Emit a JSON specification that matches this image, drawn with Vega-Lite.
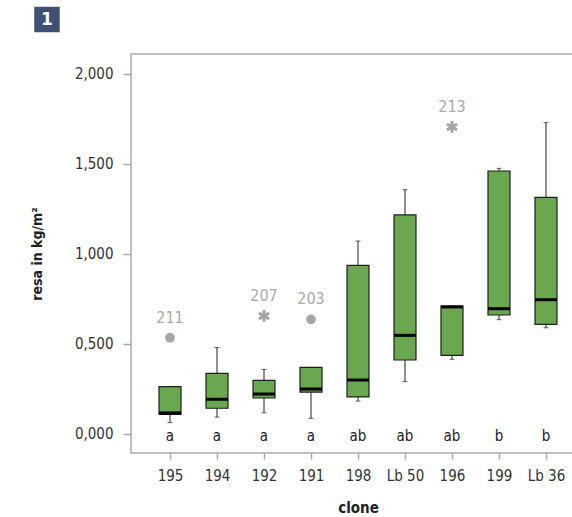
{
  "$schema": "https://vega.github.io/schema/vega-lite/v6.json",
  "padding": {"left": 29, "top": 6, "right": 0, "bottom": 0},
  "background": "white",
  "config": {
    "font": "DejaVu Sans Condensed",
    "view": {"stroke": "#aaaaaa", "strokeWidth": 1.5},
    "axis": {"labelFont": "DejaVu Sans Condensed", "titleFont": "DejaVu Sans Condensed", "grid": false}
  },
  "datasets": {
    "boxes": [
      {"clone": "195", "min": 0.063, "q1": 0.109, "median": 0.117, "q3": 0.263, "max": 0.263, "letter": "a"},
      {"clone": "194", "min": 0.094, "q1": 0.143, "median": 0.193, "q3": 0.337, "max": 0.48, "letter": "a"},
      {"clone": "192", "min": 0.118, "q1": 0.2, "median": 0.222, "q3": 0.298, "max": 0.359, "letter": "a"},
      {"clone": "191", "min": 0.087, "q1": 0.233, "median": 0.25, "q3": 0.37, "max": 0.37, "letter": "a"},
      {"clone": "198", "min": 0.183, "q1": 0.206, "median": 0.3, "q3": 0.937, "max": 1.072, "letter": "ab"},
      {"clone": "Lb 50", "min": 0.291, "q1": 0.411, "median": 0.548, "q3": 1.217, "max": 1.357, "letter": "ab"},
      {"clone": "196", "min": 0.415, "q1": 0.437, "median": 0.706, "q3": 0.711, "max": 0.711, "letter": "ab"},
      {"clone": "199", "min": 0.635, "q1": 0.661, "median": 0.696, "q3": 1.461, "max": 1.476, "letter": "b"},
      {"clone": "Lb 36", "min": 0.59, "q1": 0.609, "median": 0.746, "q3": 1.315, "max": 1.73, "letter": "b"}
    ],
    "outliers": [
      {"clone": "195", "value": 0.535, "kind": "circle", "id": "211"},
      {"clone": "192", "value": 0.656, "kind": "star", "id": "207"},
      {"clone": "191", "value": 0.637, "kind": "circle", "id": "203"},
      {"clone": "196", "value": 1.706, "kind": "star", "id": "213"}
    ],
    "badge": [{"t": "1"}]
  },
  "vconcat": [
    {
      "width": 26,
      "height": 25,
      "view": {"stroke": null, "fill": null},
      "data": {"name": "badge"},
      "layer": [
        {
          "mark": {"type": "point", "shape": "square", "filled": true, "fill": "#3f5075", "opacity": 1, "size": 650, "xOffset": -97},
          "encoding": {}
        },
        {
          "mark": {"type": "text", "color": "white", "fontSize": 17, "fontWeight": "bold", "font": "DejaVu Sans", "baseline": "middle", "align": "center", "dx": -97},
          "encoding": {"text": {"field": "t"}}
        }
      ]
    },
    {
      "width": 454,
      "height": 399,
      "encoding": {
        "x": {
          "field": "clone", "type": "nominal",
          "scale": {"type": "point", "padding": 0.83, "domain": ["195", "194", "192", "191", "198", "Lb 50", "196", "199", "Lb 36"]},
          "axis": {"title": "clone", "titleFontWeight": "bold", "titleFontSize": 15, "titleColor": "#222", "titlePadding": 17, "labelAngle": 0, "labelFontSize": 15, "labelColor": "#333", "labelPadding": 9, "tickColor": "#aaaaaa", "tickSize": 6, "tickWidth": 1.5, "domain": false}
        }
      },
      "layer": [
        {
          "data": {"name": "boxes"},
          "mark": {"type": "rule", "color": "#222", "strokeWidth": 1},
          "encoding": {
            "y": {"field": "min", "type": "quantitative",
              "scale": {"domain": [-0.1056, 2.1111], "nice": false, "zero": false},
              "axis": {"title": "resa in kg/m²", "titleFontWeight": "bold", "titleFontSize": 14, "titleColor": "#222", "titlePadding": 30,
                "values": [0, 0.5, 1, 1.5, 2], "labelExpr": "replace(format(datum.value, '.3f'), '.', ',')",
                "labelFontSize": 15, "labelColor": "#333", "labelPadding": 10, "tickColor": "#aaaaaa", "tickSize": 8, "tickWidth": 1.5, "domain": false}},
            "y2": {"field": "max"}
          }
        },
        {
          "data": {"name": "boxes"},
          "mark": {"type": "tick", "color": "#222", "size": 5, "thickness": 1},
          "encoding": {"y": {"field": "min", "type": "quantitative"}}
        },
        {
          "data": {"name": "boxes"},
          "mark": {"type": "tick", "color": "#222", "size": 5, "thickness": 1},
          "encoding": {"y": {"field": "max", "type": "quantitative"}}
        },
        {
          "data": {"name": "boxes"},
          "mark": {"type": "bar", "size": 22, "fill": "#6aa84f", "stroke": "#1f1f1f", "strokeWidth": 1.2},
          "encoding": {"y": {"field": "q1", "type": "quantitative"}, "y2": {"field": "q3"}}
        },
        {
          "data": {"name": "boxes"},
          "mark": {"type": "tick", "color": "#000", "size": 22, "thickness": 3, "opacity": 1},
          "encoding": {"y": {"field": "median", "type": "quantitative"}}
        },
        {
          "data": {"name": "boxes"},
          "mark": {"type": "text", "fontSize": 15, "color": "#222", "baseline": "middle"},
          "encoding": {"y": {"datum": -0.01, "type": "quantitative"}, "text": {"field": "letter"}}
        },
        {
          "data": {"name": "outliers"},
          "transform": [{"filter": "datum.kind === 'circle'"}],
          "mark": {"type": "point", "shape": "circle", "filled": true, "color": "#a6a6a6", "size": 95, "opacity": 1},
          "encoding": {"y": {"field": "value", "type": "quantitative"}}
        },
        {
          "data": {"name": "outliers"},
          "transform": [{"filter": "datum.kind === 'star'"}],
          "mark": {"type": "point", "shape": "M0,-1L0,1M-0.866,-0.5L0.866,0.5M-0.866,0.5L0.866,-0.5", "filled": false, "stroke": "#a6a6a6", "strokeWidth": 3, "size": 140, "opacity": 1},
          "encoding": {"y": {"field": "value", "type": "quantitative"}}
        },
        {
          "data": {"name": "outliers"},
          "mark": {"type": "text", "fontSize": 16, "color": "#aaaaaa", "baseline": "middle", "dy": -20},
          "encoding": {"y": {"field": "value", "type": "quantitative"}, "text": {"field": "id"}}
        }
      ]
    }
  ],
  "spacing": 20
}
